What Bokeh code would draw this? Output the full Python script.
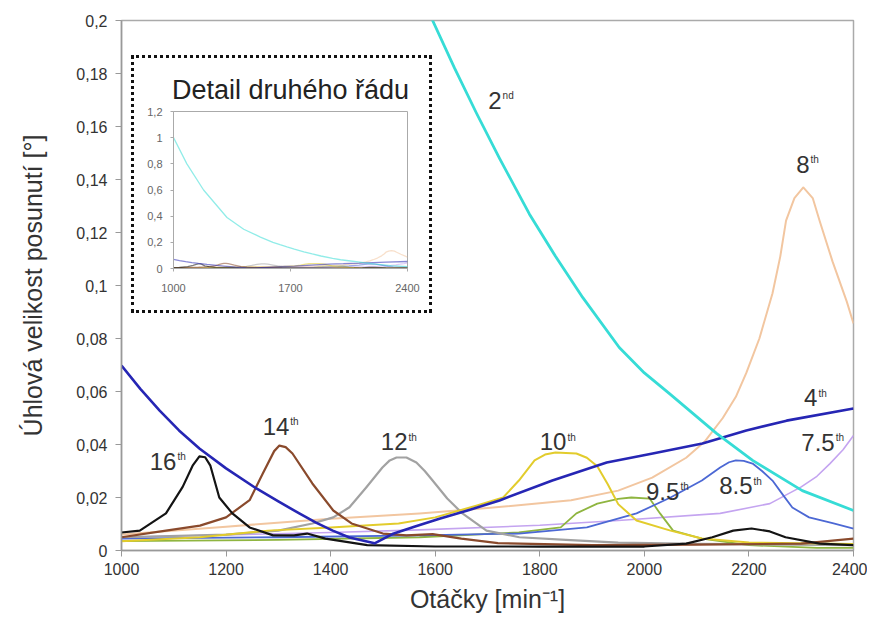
from bokeh.plotting import figure
from bokeh.models import Range1d, FixedTicker, CustomJSTickFormatter, ColumnDataSource
from bokeh.layouts import column, row
from bokeh.embed import file_html
from bokeh.resources import INLINE
from bokeh.core.properties import value

FONT = "Liberation Sans"

# ---------------- data ----------------
x_ticks = [1000, 1200, 1400, 1600, 1800, 2000, 2200, 2400]
y_ticks = [0, 0.02, 0.04, 0.06, 0.08, 0.1, 0.12, 0.14, 0.16, 0.18, 0.2]
y_tick_labels = ["0", "0,02", "0,04", "0,06", "0,08", "0,1", "0,12", "0,14", "0,16", "0,18", "0,2"]
inset_x_ticks = [1000, 1700, 2400]
inset_y_ticks = [0, 0.2, 0.4, 0.6, 0.8, 1.0, 1.2]
inset_y_tick_labels = ["0", "0,2", "0,4", "0,6", "0,8", "1", "1,2"]

o2_rpm = [1000, 1080, 1180, 1320, 1420, 1520, 1595, 1637, 1679, 1723, 1780, 1830, 1882, 1952, 2000, 2048, 2138, 2207, 2302, 2400]
o2_val = [1.0, 0.80, 0.60, 0.39, 0.30, 0.24, 0.200, 0.182, 0.165, 0.148, 0.127, 0.111, 0.0955, 0.0766, 0.067, 0.0592, 0.0442, 0.034, 0.0226, 0.0151]

o4_rpm = [1000, 1036, 1073, 1110, 1149, 1200, 1258, 1300, 1340, 1372, 1404, 1436, 1484, 1518, 1560, 1608, 1665, 1723, 1824, 1928, 2016, 2111, 2195, 2272, 2400]
o4_val = [0.0698, 0.061, 0.0528, 0.0453, 0.0385, 0.031, 0.0234, 0.0185, 0.014, 0.0105, 0.0075, 0.0049, 0.0027, 0.0062, 0.009, 0.012, 0.0153, 0.0189, 0.0264, 0.0332, 0.0366, 0.0404, 0.0453, 0.049, 0.0536]

o75_rpm = [1000, 1400, 1570, 1800, 1950, 2145, 2240, 2300, 2330, 2355, 2380, 2400]
o75_val = [0.005, 0.0068, 0.0078, 0.0095, 0.0113, 0.014, 0.0177, 0.024, 0.028, 0.0328, 0.038, 0.0434]

o8_rpm = [1000, 1200, 1400, 1570, 1700, 1860, 1950, 2015, 2080, 2115, 2150, 2175, 2195, 2220, 2245, 2260, 2271, 2287, 2304, 2322, 2335, 2360, 2387, 2400]
o8_val = [0.006, 0.009, 0.012, 0.014, 0.016, 0.019, 0.0226, 0.0275, 0.035, 0.041, 0.050, 0.058, 0.067, 0.080, 0.097, 0.111, 0.1245, 0.133, 0.137, 0.133, 0.1245, 0.109, 0.094, 0.0857]

o85_rpm = [1000, 1300, 1570, 1760, 1890, 1985, 2050, 2110, 2145, 2162, 2175, 2190, 2207, 2225, 2245, 2265, 2283, 2315, 2360, 2400]
o85_val = [0.0045, 0.005, 0.0057, 0.0064, 0.0087, 0.014, 0.020, 0.0264, 0.0313, 0.0333, 0.034, 0.0338, 0.0328, 0.030, 0.0264, 0.021, 0.0162, 0.0125, 0.0103, 0.0083]

o95_rpm = [1000, 1300, 1570, 1760, 1840, 1870, 1910, 1950, 1975, 2010, 2030, 2055, 2110, 2200, 2330, 2400]
o95_val = [0.0035, 0.004, 0.005, 0.0068, 0.0087, 0.014, 0.0177, 0.0195, 0.020, 0.0196, 0.014, 0.0075, 0.0045, 0.002, 0.001, 0.001]

o10_rpm = [1000, 1150, 1280, 1400, 1530, 1600, 1680, 1730, 1760, 1790, 1810, 1830, 1870, 1890, 1910, 1930, 1950, 1985, 2050, 2110, 2200, 2400]
o10_val = [0.0035, 0.005, 0.0075, 0.0087, 0.0102, 0.0125, 0.017, 0.020, 0.0264, 0.034, 0.0362, 0.037, 0.0366, 0.035, 0.0318, 0.025, 0.0175, 0.0113, 0.0075, 0.0045, 0.003, 0.0025]

o12_rpm = [1000, 1200, 1300, 1365, 1405, 1436, 1468, 1499, 1513, 1526, 1545, 1564, 1580, 1595, 1623, 1652, 1698, 1761, 1850, 1950, 2100, 2400]
o12_val = [0.005, 0.006, 0.0075, 0.0102, 0.0125, 0.0163, 0.0238, 0.0313, 0.034, 0.0351, 0.0351, 0.0332, 0.030, 0.0264, 0.0196, 0.014, 0.0075, 0.005, 0.004, 0.003, 0.0025, 0.002]

o14_rpm = [1000, 1085, 1150, 1200, 1245, 1270, 1292, 1302, 1314, 1327, 1365, 1405, 1440, 1500, 1545, 1595, 1650, 1720, 1900, 2100, 2300, 2400]
o14_val = [0.005, 0.0075, 0.0094, 0.0125, 0.019, 0.029, 0.0375, 0.0396, 0.039, 0.0366, 0.0253, 0.0151, 0.0102, 0.0064, 0.0057, 0.0062, 0.0045, 0.0028, 0.002, 0.0022, 0.0026, 0.0045]

o16_rpm = [1000, 1035, 1085, 1117, 1136, 1149, 1160, 1170, 1187, 1212, 1245, 1290, 1330, 1355, 1390, 1470, 1600, 1800, 2000, 2080, 2130, 2170, 2205, 2240, 2270, 2335, 2400]
o16_val = [0.0068, 0.0075, 0.014, 0.024, 0.032, 0.0355, 0.0352, 0.032, 0.020, 0.014, 0.0087, 0.0057, 0.0057, 0.0064, 0.0045, 0.002, 0.0015, 0.0015, 0.0015, 0.0026, 0.005, 0.0075, 0.0083, 0.0072, 0.005, 0.0026, 0.002]

# curve labels: main part, superscript, anchor (junction of the two parts)
label_main = ["2", "4", "7.5", "8", "8.5", "9.5", "10", "12", "14", "16"]
label_sup = ["nd", "th", "th", "th", "th", "th", "th", "th", "th", "th"]
label_rpm = [1727, 2331, 2364, 2316, 2207, 2067, 1851, 1547, 1321, 1105]
label_val = [0.170, 0.0577, 0.0408, 0.1457, 0.0245, 0.0223, 0.0411, 0.0411, 0.0468, 0.0336]

series = [
    (o75_rpm, o75_val, "#c4a4f0", 1.6),
    (o95_rpm, o95_val, "#8fb540", 1.8),
    (o85_rpm, o85_val, "#4c68d4", 1.8),
    (o8_rpm, o8_val, "#f2c6a0", 2.0),
    (o12_rpm, o12_val, "#a2a2a2", 2.2),
    (o10_rpm, o10_val, "#e2cc2c", 2.0),
    (o14_rpm, o14_val, "#8a4a2c", 2.2),
    (o16_rpm, o16_val, "#141414", 2.2),
    (o4_rpm, o4_val, "#2626b4", 2.6),
    (o2_rpm, o2_val, "#36dcd6", 2.8),
]

FMT_CODE = """
    let best = 0;
    for (let i = 0; i < tvals.length; i++) {
        if (Math.abs(tvals[i] - tick) < Math.abs(tvals[best] - tick)) best = i;
    }
    return tlabels[best];
"""

# ---------------- main figure ----------------
p = figure(frame_width=732, frame_height=530,
           x_range=Range1d(1000, 2400), y_range=Range1d(0, 0.2),
           output_backend="svg", toolbar_location=None,
           min_border_left=121, min_border_right=14, min_border_top=20, min_border_bottom=68,
           background_fill_color="white", border_fill_color="white")
p.grid.visible = False
p.outline_line_color = "#aaaaaa"
p.outline_line_width = 1.5

for xs, ys, col, w in series:
    p.line(xs, ys, line_color=col, line_width=w, line_join="round")

p.xaxis.ticker = FixedTicker(ticks=x_ticks)
p.yaxis.ticker = FixedTicker(ticks=y_ticks)
p.yaxis.formatter = CustomJSTickFormatter(args=dict(tvals=y_ticks, tlabels=y_tick_labels), code=FMT_CODE)
for ax in (p.xaxis, p.yaxis):
    ax.axis_line_color = "#999999"
    ax.axis_line_width = 1.5
    ax.major_tick_line_color = "#999999"
    ax.major_tick_out = 6
    ax.major_tick_in = 0
    ax.minor_tick_line_color = None
    ax.major_label_text_font = FONT
    ax.major_label_text_font_size = "16px"
    ax.major_label_text_color = "#333333"
    ax.axis_label_text_font = FONT
    ax.axis_label_text_font_size = "25px"
    ax.axis_label_text_font_style = "normal"
    ax.axis_label_text_color = "#333333"

p.xaxis.axis_label = "Otáčky [min⁻¹]"
p.yaxis.axis_label = "Úhlová velikost posunutí [°]"
p.xaxis.major_label_standoff = 6
p.xaxis.axis_label_standoff = 7
p.yaxis.major_label_standoff = 8
p.yaxis.axis_label_standoff = 26

src = ColumnDataSource(dict(x=label_rpm, y=label_val, main=label_main, sup=label_sup))
p.text(x="x", y="y", text="main", source=src, text_font=value(FONT), text_font_size="24px",
       text_color="#333333", text_align="right", text_baseline="middle")
p.text(x="x", y="y", text="sup", source=src, text_font=value(FONT), text_font_size="10px",
       text_color="#333333", text_align="left", text_baseline="top", x_offset=1, y_offset=-10)

# ---------------- inset ----------------
inset = figure(frame_width=234, frame_height=157,
               x_range=Range1d(1000, 2400), y_range=Range1d(0, 1.2),
               output_backend="svg", toolbar_location=None,
               min_border_left=39, min_border_right=22, min_border_top=53, min_border_bottom=42,
               background_fill_color="white", border_fill_color="white")
inset.title.text = "Detail druhého řádu"
inset.title.text_font = FONT
inset.title.text_font_size = "27px"
inset.title.text_font_style = "normal"
inset.title.text_color = "#222222"
inset.title.align = "center"
inset.title.standoff = 13
inset.grid.visible = False
inset.outline_line_color = "#aaaaaa"
for xs, ys, col, w in series:
    inset.line(xs, ys, line_color=col, line_width=1.3, line_alpha=0.55)
inset.xaxis.ticker = FixedTicker(ticks=inset_x_ticks)
inset.yaxis.ticker = FixedTicker(ticks=inset_y_ticks)
inset.yaxis.formatter = CustomJSTickFormatter(args=dict(tvals=inset_y_ticks, tlabels=inset_y_tick_labels), code=FMT_CODE)
for ax in (inset.xaxis, inset.yaxis):
    ax.axis_line_color = "#aaaaaa"
    ax.major_tick_line_color = "#aaaaaa"
    ax.major_tick_out = 3
    ax.major_tick_in = 0
    ax.minor_tick_line_color = None
    ax.major_label_text_font = FONT
    ax.major_label_text_font_size = "11px"
    ax.major_label_text_color = "#666666"
inset.xaxis.major_label_standoff = 12
inset.yaxis.major_label_standoff = 8

inset_box = row(inset, margin=(-563, 0, 0, 131),
                styles={"border": "3px dotted #111111", "background-color": "white"})

layout = column(p, inset_box)
open("out.html", "w").write(file_html(layout, INLINE))
